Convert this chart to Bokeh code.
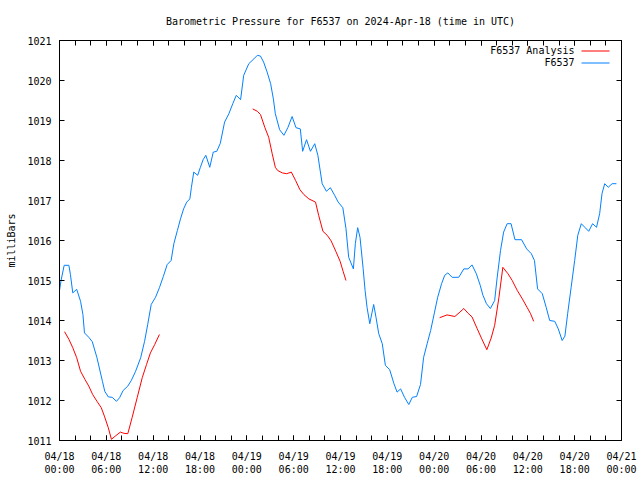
from datetime import datetime, timedelta
from bokeh.plotting import figure
from bokeh.models import (Range1d, FixedTicker, DatetimeAxis, LinearAxis,
                          DatetimeTickFormatter, Label, BoxAnnotation)
from bokeh.embed import file_html
from bokeh.resources import INLINE

# ---------------- data (hours after 2024-04-18 00:00 UTC, milliBars) ----------------
start = datetime(2024, 4, 18)

blue_hours = [0.0, 0.2, 0.6, 1.2, 1.4, 1.7, 2.2, 2.7, 3.0, 3.2, 3.75, 4.2, 4.8, 5.5, 5.8,
              6.25, 6.75, 7.3, 7.7, 8.15, 8.75, 9.2, 9.75, 10.4, 10.9, 11.3, 11.75, 12.3,
              12.8, 13.3, 13.8, 14.3, 14.65, 15.1, 15.5, 15.9, 16.3, 16.7, 16.9, 17.2, 17.7,
              18.05, 18.4, 18.75, 19.25, 19.7, 20.15, 20.6, 21.15, 21.7, 22.2, 22.65, 23.2,
              23.6, 24.25, 24.9, 25.35, 25.75, 26.15, 26.6, 27.05, 27.4, 27.65, 28.2, 28.75,
              29.25, 29.8, 30.3, 30.85, 31.15, 31.65, 32.15, 32.7, 33.1, 33.65, 34.2, 34.7,
              35.25, 35.7, 36.3, 36.7, 37.05, 37.3, 37.65, 37.9, 38.2, 38.5, 38.9, 39.15,
              39.4, 39.75, 40.05, 40.25, 40.55, 40.9, 41.35, 41.75, 42.3, 42.85, 43.25,
              43.7, 44.2, 44.75, 45.2, 45.75, 46.25, 46.65, 47.1, 47.55, 48.05, 48.45,
              48.95, 49.35, 49.75, 50.3, 51.15, 51.8, 52.35, 52.85, 53.4, 53.9, 54.25,
              54.7, 55.2, 55.75, 56.05, 56.5, 56.9, 57.35, 57.85, 58.35, 59.2, 59.85, 60.45,
              60.85, 61.25, 61.85, 62.35, 62.8, 63.45, 63.9, 64.4, 64.75, 65.1, 65.55, 66.0,
              66.4, 66.85, 67.3, 67.8, 68.3, 68.8, 69.2, 69.5, 69.85, 70.3, 70.8, 71.35]
blue_values = [1014.75, 1015.0, 1015.38, 1015.38, 1015.15, 1014.69, 1014.78, 1014.48, 1014.15,
               1013.69, 1013.58, 1013.47, 1013.07, 1012.48, 1012.23, 1012.09, 1012.08, 1011.98,
               1012.07, 1012.25, 1012.36, 1012.5, 1012.73, 1013.07, 1013.48, 1013.9, 1014.4,
               1014.58, 1014.82, 1015.1, 1015.4, 1015.5, 1015.92, 1016.25, 1016.54, 1016.79,
               1016.96, 1017.04, 1017.33, 1017.71, 1017.63, 1017.83, 1018.02, 1018.13, 1017.83,
               1018.21, 1018.23, 1018.43, 1018.96, 1019.17, 1019.42, 1019.63, 1019.52, 1020.13,
               1020.42, 1020.54, 1020.63, 1020.61, 1020.46, 1020.21, 1019.92, 1019.54, 1019.17,
               1018.77, 1018.63, 1018.82, 1019.1, 1018.82, 1018.79, 1018.23, 1018.52, 1018.23,
               1018.42, 1018.13, 1017.42, 1017.23, 1017.32, 1017.13, 1016.96, 1016.82, 1016.3,
               1015.58, 1015.46, 1015.29, 1015.92, 1016.32, 1016.08, 1015.3, 1014.75, 1014.33,
               1013.92, 1014.21, 1014.4, 1014.08, 1013.67, 1013.42, 1012.88, 1012.77, 1012.42,
               1012.21, 1012.29, 1012.08, 1011.9, 1012.08, 1012.1, 1012.4, 1013.08, 1013.42,
               1013.75, 1014.21, 1014.58, 1014.92, 1015.13, 1015.19, 1015.08, 1015.08, 1015.29,
               1015.29, 1015.39, 1015.17, 1014.88, 1014.63, 1014.42, 1014.3, 1014.5, 1015.04,
               1015.75, 1016.21, 1016.42, 1016.42, 1016.02, 1016.02, 1015.79, 1015.67, 1015.5,
               1014.79, 1014.67, 1014.33, 1014.0, 1013.98, 1013.79, 1013.5, 1013.61, 1014.17,
               1014.83, 1015.5, 1016.13, 1016.42, 1016.33, 1016.23, 1016.42, 1016.33, 1016.67,
               1017.17, 1017.42, 1017.33, 1017.42, 1017.42]

red1_hours = [0.65, 1.2, 1.7, 2.2, 2.7, 3.25, 3.75, 4.25, 4.8, 5.35, 5.75, 6.25, 6.65, 7.15,
              7.8, 8.25, 8.75, 9.3, 9.95, 10.6, 11.15, 11.65, 12.2, 12.8]
red1_values = [1013.72, 1013.53, 1013.32, 1013.07, 1012.73, 1012.53, 1012.36, 1012.15, 1011.98,
               1011.82, 1011.61, 1011.32, 1011.03, 1011.11, 1011.21, 1011.18, 1011.17, 1011.57,
               1012.07, 1012.57, 1012.9, 1013.19, 1013.4, 1013.65]

red2_hours = [24.75, 25.35, 25.75, 26.3, 26.8, 27.25, 27.65, 27.95, 28.55, 29.1, 29.7, 30.25,
              30.8, 31.3, 31.95, 32.8, 33.2, 33.75, 34.3, 34.8, 35.4, 35.95, 36.35, 36.7]
red2_values = [1019.29, 1019.23, 1019.15, 1018.83, 1018.58, 1018.17, 1017.83, 1017.75, 1017.69,
               1017.67, 1017.71, 1017.5, 1017.27, 1017.15, 1017.04, 1016.96, 1016.63, 1016.23,
               1016.13, 1015.99, 1015.73, 1015.48, 1015.22, 1015.0]

red3_hours = [48.7, 49.65, 50.65, 51.3, 51.8, 52.35, 52.85, 53.5, 54.1, 54.75, 55.3, 55.75,
              56.3, 56.8, 57.45, 58.0, 58.65, 59.3, 59.9, 60.35, 60.75]
red3_values = [1014.07, 1014.14, 1014.1, 1014.21, 1014.3, 1014.18, 1014.09, 1013.8, 1013.54,
               1013.27, 1013.56, 1013.88, 1014.58, 1015.33, 1015.17, 1015.0, 1014.75, 1014.54,
               1014.33, 1014.17, 1013.98]

major_tick_hours = list(range(0, 73, 6))
minor_tick_hours = list(range(0, 73, 2))
y_ticks = list(range(1011, 1022))

title_text = "Barometric Pressure for F6537 on 2024-Apr-18 (time in UTC)"
series_names = ["F6537 Analysis", "F6537"]
red = "#ff0000"
blue = "#0080ff"
FONT = "DejaVu Sans Mono"

# ---------------- helpers ----------------
epoch = datetime(1970, 1, 1)


def to_dt(hours):
    return [start + timedelta(hours=h) for h in hours]


def to_ms(hours):
    return [((start + timedelta(hours=h)) - epoch).total_seconds() * 1000.0 for h in hours]


p = figure(width=640, height=480, x_axis_type="datetime",
           x_range=Range1d(start, start + timedelta(hours=72)),
           y_range=Range1d(1011, 1021),
           output_backend="svg", toolbar_location=None,
           min_border_left=59, min_border_right=19, min_border_top=40, min_border_bottom=40)
p.title_location = None

p.xgrid.visible = False
p.ygrid.visible = False
p.outline_line_color = "black"
p.outline_line_width = 1
p.background_fill_color = "white"
p.border_fill_color = "white"

fmt = "%m/%d\n%H:%M"
dt_fmt = DatetimeTickFormatter(milliseconds=fmt, seconds=fmt, minsec=fmt, minutes=fmt,
                               hourmin=fmt, hours=fmt, days=fmt, months=fmt, years=fmt)


def style_axis(ax, labels=True):
    ax.axis_line_color = "black"
    ax.major_tick_line_color = "black"
    ax.minor_tick_line_color = "black"
    ax.major_tick_in = 5
    ax.major_tick_out = 0
    ax.minor_tick_in = 5
    ax.minor_tick_out = 0
    ax.major_label_text_font = FONT
    if labels:
        ax.major_label_text_font_size = "10px"
        ax.major_label_text_color = "black"
    else:
        ax.major_label_text_font_size = "0px"
        ax.major_label_text_color = None
        ax.major_label_standoff = 0


xa = p.xaxis[0]
xa.ticker = FixedTicker(ticks=to_ms(major_tick_hours), minor_ticks=to_ms(minor_tick_hours))
xa.formatter = dt_fmt
style_axis(xa)
xa.major_label_standoff = 10

ya = p.yaxis[0]
ya.ticker = FixedTicker(ticks=y_ticks, minor_ticks=[])
style_axis(ya)
ya.major_label_standoff = 8
ya.axis_label = "milliBars"
ya.axis_label_text_font = FONT
ya.axis_label_text_font_size = "10px"
ya.axis_label_text_font_style = "normal"
ya.axis_label_text_color = "black"
ya.axis_label_standoff = 7

# mirrored top axis carries the chart title
top = DatetimeAxis(ticker=FixedTicker(ticks=to_ms(major_tick_hours), minor_ticks=to_ms(minor_tick_hours)),
                   formatter=dt_fmt)
style_axis(top, labels=False)
top.axis_label = title_text
top.axis_label_text_font = FONT
top.axis_label_text_font_size = "10px"
top.axis_label_text_font_style = "normal"
top.axis_label_text_color = "black"
top.axis_label_standoff = 14
p.add_layout(top, "above")

right = LinearAxis(ticker=FixedTicker(ticks=y_ticks, minor_ticks=[]))
style_axis(right, labels=False)
p.add_layout(right, "right")

# ---------------- data lines ----------------
for hh, vv in [(red1_hours, red1_values), (red2_hours, red2_values), (red3_hours, red3_values)]:
    p.line(to_dt(hh), vv, line_color=red, line_width=1)
p.line(to_dt(blue_hours), blue_values, line_color=blue, line_width=1)

# ---------------- gnuplot-style key (text left of sample) ----------------
for i, (name, col) in enumerate(zip(series_names, [red, blue])):
    yk = 390 - 12 * i
    p.add_layout(Label(x=515, y=yk, x_units="screen", y_units="screen", text=name,
                       text_font=FONT, text_font_size="10px", text_align="right",
                       text_baseline="middle", text_color="black"))
    p.add_layout(BoxAnnotation(left=522, right=550, bottom=yk - 1, top=yk,
                               left_units="screen", right_units="screen",
                               bottom_units="screen", top_units="screen",
                               fill_color=col, fill_alpha=1.0, line_color=None))

open("out.html", "w").write(file_html(p, INLINE))
